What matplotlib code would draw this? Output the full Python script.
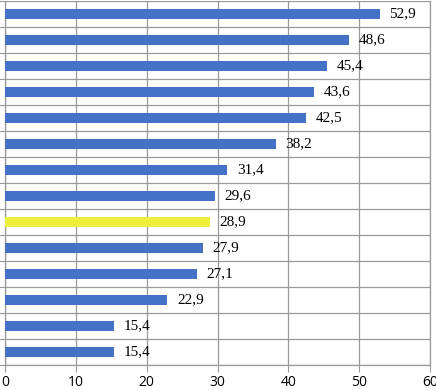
import numpy as np
import matplotlib
matplotlib.use('Agg')
import matplotlib.pyplot as plt

# values from top to bottom
values = [52.9, 48.6, 45.4, 43.6, 42.5, 38.2, 31.4, 29.6, 28.9, 27.9, 27.1, 22.9, 15.4, 15.4]
highlight = 8  # the yellow bar
xticks = [0, 10, 20, 30, 40, 50, 60]

blue = '#4472C4'
yellow = '#EEEE3C'
grid_col = '#9a9a9a'

fig = plt.figure(figsize=(4.36, 3.90), dpi=100)
ax = fig.add_axes([5 / 436, 25 / 390, 425 / 436, 364 / 390])

n = len(values)
ypos = np.arange(n)
colors = [yellow if i == highlight else blue for i in range(n)]
ax.barh(ypos, values, height=0.4, color=colors, zorder=3)

for y, v in zip(ypos, values):
    ax.annotate('{:.1f}'.format(v).replace('.', ','), (v, y), xytext=(7, 0),
                textcoords='offset points', va='center', ha='left',
                fontsize=11, family='Liberation Serif', color='black')

ax.set_xlim(0, 60)
ax.set_ylim(n - 0.5, -0.5)
ax.set_xticks(xticks)
ax.set_xticklabels([str(t) for t in xticks], family='Open Sans', fontsize=10)
ax.set_yticks(np.arange(n + 1) - 0.5)
ax.set_yticklabels([])
ax.tick_params(axis='x', length=5, color=grid_col, pad=2)
ax.tick_params(axis='y', length=5, color=grid_col)

ax.grid(True, color=grid_col, linewidth=0.9, zorder=0)
for s in ax.spines.values():
    s.set_color(grid_col)
    s.set_linewidth(0.9)
ax.spines['top'].set_visible(False)

fig.savefig('out.png', dpi=100)
